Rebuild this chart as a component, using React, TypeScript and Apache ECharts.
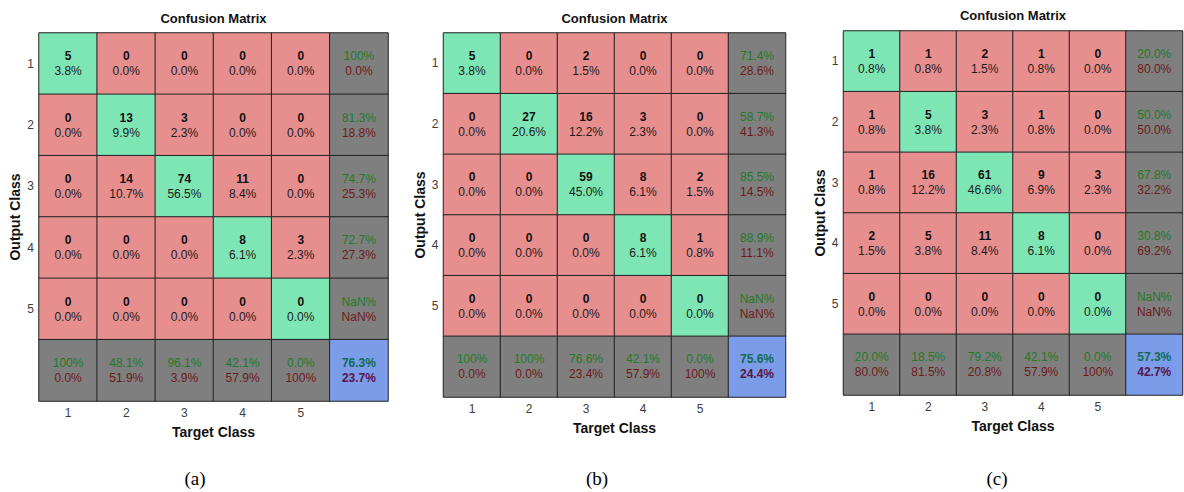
import React, { useEffect, useRef } from 'react';
import * as echarts from 'echarts';

// ---- data ----
const classLabels = ['1', '2', '3', '4', '5'];
const countsA = [
  [5, 0, 0, 0, 0],
  [0, 13, 3, 0, 0],
  [0, 14, 74, 11, 0],
  [0, 0, 0, 8, 3],
  [0, 0, 0, 0, 0],
];
const countsB = [
  [5, 0, 2, 0, 0],
  [0, 27, 16, 3, 0],
  [0, 0, 59, 8, 2],
  [0, 0, 0, 8, 1],
  [0, 0, 0, 0, 0],
];
const countsC = [
  [1, 1, 2, 1, 0],
  [1, 5, 3, 1, 0],
  [1, 16, 61, 9, 3],
  [2, 5, 11, 8, 0],
  [0, 0, 0, 0, 0],
];
const panelTitle = 'Confusion Matrix';
const xAxisTitle = 'Target Class';
const yAxisTitle = 'Output Class';
const captions = ['(a)', '(b)', '(c)'];

// ---- styles / layout ----
const FONT = '"Liberation Sans", Arial, Helvetica, sans-serif';
const GREEN = '#7ee6b5';
const RED = '#e78e8e';
const GRAY = '#7f7f7f';
const BLUE = '#7b9ce9';
const TICK = '#3c3c3c';
const panels = [
  { counts: countsA, left: 39, top: 33, width: 349, height: 368, titleY: 18, caption: captions[0], capX: 195 },
  { counts: countsB, left: 443.5, top: 33, width: 342, height: 364, titleY: 18, caption: captions[1], capX: 597 },
  { counts: countsC, left: 843.5, top: 31, width: 339, height: 364, titleY: 15, caption: captions[2], capX: 997 },
];

function pct(num: number, den: number): string {
  if (den === 0) return 'NaN%';
  const v = (num / den) * 100;
  if (v === 100) return '100%';
  return v.toFixed(1) + '%';
}

// cell kind: 0 = off-diagonal, 1 = diagonal, 2 = summary, 3 = overall
function buildData(counts: number[][]) {
  const n = counts.length;
  let total = 0;
  let diagSum = 0;
  const rowSums = counts.map((r) => r.reduce((a, b) => a + b, 0));
  const colSums = classLabels.map((_, c) => counts.reduce((a, r) => a + r[c], 0));
  counts.forEach((r, i) => {
    total += rowSums[i];
    diagSum += r[i];
  });
  const data: any[] = [];
  for (let r = 0; r < n; r++) {
    for (let c = 0; c < n; c++) {
      const v = counts[r][c];
      data.push({
        name: `{n|${v}}\n{p|${pct(v, total)}}`,
        value: [c, r, v, r === c ? 1 : 0],
      });
    }
    data.push({
      name: `{g|${pct(counts[r][r], rowSums[r])}}\n{r|${pct(rowSums[r] - counts[r][r], rowSums[r])}}`,
      value: [n, r, rowSums[r], 2],
    });
  }
  for (let c = 0; c < n; c++) {
    data.push({
      name: `{g|${pct(counts[c][c], colSums[c])}}\n{r|${pct(colSums[c] - counts[c][c], colSums[c])}}`,
      value: [c, n, colSums[c], 2],
    });
  }
  data.push({
    name: `{gb|${pct(diagSum, total)}}\n{rb|${pct(total - diagSum, total)}}`,
    value: [n, n, total, 3],
  });
  return data;
}

const rich = {
  n: { fontFamily: FONT, fontSize: 12, fontWeight: 'bold', color: '#111111', lineHeight: 15 },
  p: { fontFamily: FONT, fontSize: 12, color: '#1c1c1c', lineHeight: 15 },
  g: { fontFamily: FONT, fontSize: 12, color: '#237a25', lineHeight: 15 },
  r: { fontFamily: FONT, fontSize: 12, color: '#6e1a1a', lineHeight: 15 },
  gb: { fontFamily: FONT, fontSize: 12, fontWeight: 'bold', color: '#0f6b55', lineHeight: 15 },
  rb: { fontFamily: FONT, fontSize: 12, fontWeight: 'bold', color: '#5a1446', lineHeight: 15 },
};

export default function App() {
  const ref = useRef<HTMLDivElement>(null);
  useEffect(() => {
    if (!ref.current) return;
    const chart = echarts.init(ref.current, undefined, { renderer: 'svg' });
    const cats = [...classLabels, ''];
    const option: any = {
      animation: false,
      backgroundColor: '#ffffff',
      visualMap: {
        type: 'piecewise',
        show: false,
        dimension: 3,
        seriesIndex: [0, 1, 2],
        pieces: [
          { value: 0, color: RED },
          { value: 1, color: GREEN },
          { value: 2, color: GRAY },
          { value: 3, color: BLUE },
        ],
      },
      grid: panels.map((p) => ({ left: p.left, top: p.top, width: p.width, height: p.height, containLabel: false })),
      xAxis: panels.map((p, i) => ({
        type: 'category',
        gridIndex: i,
        data: cats,
        position: 'bottom',
        axisLine: { show: false },
        axisTick: { show: false },
        splitLine: { show: false },
        axisLabel: { margin: 6, fontFamily: FONT, fontSize: 12, color: TICK },
        name: xAxisTitle,
        nameLocation: 'middle',
        nameGap: 24,
        nameTextStyle: { fontFamily: FONT, fontSize: 14, fontWeight: 'bold', color: '#111111' },
      })),
      yAxis: panels.map((p, i) => ({
        type: 'category',
        gridIndex: i,
        data: cats,
        inverse: true,
        axisLine: { show: false },
        axisTick: { show: false },
        splitLine: { show: false },
        axisLabel: { margin: 5, fontFamily: FONT, fontSize: 12, color: TICK },
        name: yAxisTitle,
        nameLocation: 'middle',
        nameGap: 17,
        nameTextStyle: { fontFamily: FONT, fontSize: 14, fontWeight: 'bold', color: '#111111' },
      })),
      series: panels.map((p, i) => ({
        type: 'heatmap',
        xAxisIndex: i,
        yAxisIndex: i,
        data: buildData(p.counts),
        silent: true,
        emphasis: { disabled: true },
        itemStyle: { borderColor: '#222222', borderWidth: 1 },
        label: {
          show: true,
          formatter: (d: any) => d.name,
          rich,
        },
      })),
      graphic: [
        ...panels.map((p) => ({
          type: 'text',
          x: p.left + p.width / 2,
          y: p.titleY,
          style: {
            text: panelTitle,
            font: `bold 13px ${FONT}`,
            fill: '#111111',
            align: 'center',
            verticalAlign: 'middle',
            textAlign: 'center',
            textVerticalAlign: 'middle',
          },
        })),
        ...panels.map((p) => ({
          type: 'text',
          x: p.capX,
          y: 478,
          style: {
            text: p.caption,
            font: `19px "Liberation Serif", "Times New Roman", serif`,
            fill: '#000000',
            align: 'center',
            verticalAlign: 'middle',
            textAlign: 'center',
            textVerticalAlign: 'middle',
          },
        })),
      ],
    };
    chart.setOption(option);
    return () => chart.dispose();
  }, []);
  return (
    <div
      ref={ref}
      style={{ position: 'absolute', left: 0, top: 0, width: 1184, height: 492, background: '#fff' }}
    />
  );
}
